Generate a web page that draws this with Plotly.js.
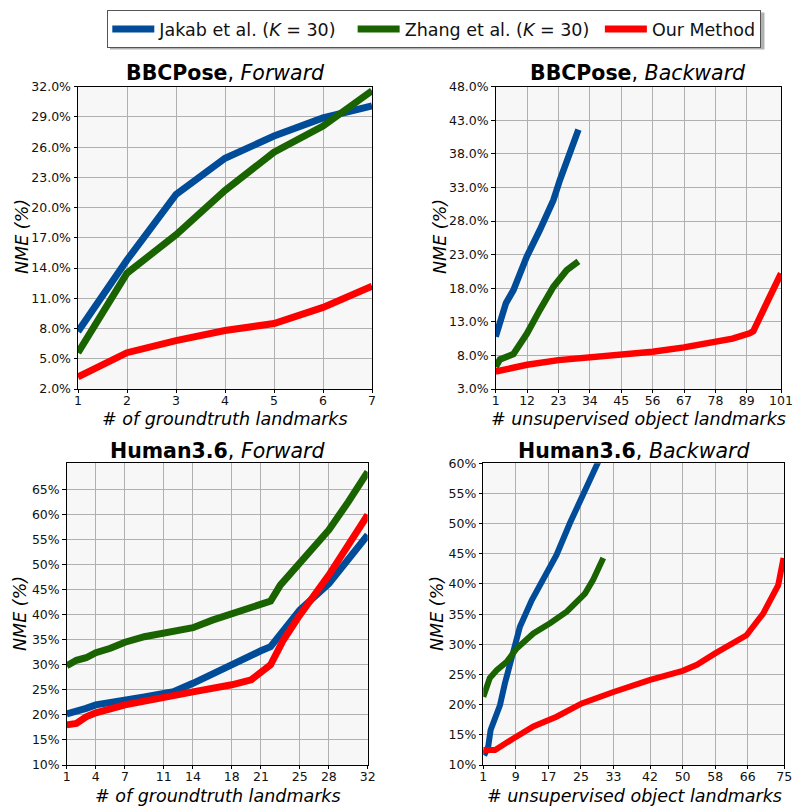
<!DOCTYPE html>
<html>
<head>
<meta charset="utf-8">
<script src="https://cdn.plot.ly/plotly-3.0.1.min.js"></script>
<style>html,body{margin:0;padding:0;background:#fff;}#chart{width:793px;height:808px;}</style>
</head>
<body>
<div id="chart"></div>
<script>
// ---------- Data ----------
const seriesNames = ['Jakab et al. (<i>K</i> = 30)\u00a0\u00a0', 'Zhang et al. (<i>K</i> = 30)\u00a0', 'Our Method'];

// BBCPose, Forward
const bbcF_x = [1, 2, 3, 4, 5, 6, 7];
const bbcF_jakab = [7.7, 14.8, 21.3, 24.9, 27.1, 28.9, 30.1];
const bbcF_zhang = [5.6, 13.5, 17.3, 21.7, 25.5, 28.1, 31.6];
const bbcF_ours  = [3.2, 5.6, 6.8, 7.8, 8.5, 10.1, 12.2];
const bbcF_ticks = [1, 2, 3, 4, 5, 6, 7];

// BBCPose, Backward
const bbcB_jakab_x = [1, 2.5, 4.6, 7.2, 8.9, 11.9, 16.5, 21.2, 23.5, 27, 30];
const bbcB_jakab   = [10.8, 12.8, 15.8, 17.7, 19.7, 22.7, 26.7, 31.1, 34.1, 38.1, 41.6];
const bbcB_zhang_x = [1, 2.5, 7.2, 11.9, 16.5, 21.2, 25.9, 30];
const bbcB_zhang   = [6.3, 7.4, 8.2, 11.2, 14.8, 18.2, 20.7, 22.0];
const bbcB_ours_x  = [1, 12, 23, 34, 45, 56, 67, 78, 84, 90, 91.3, 96, 101];
const bbcB_ours    = [5.6, 6.6, 7.3, 7.65, 8.1, 8.55, 9.2, 9.9, 10.5, 11.3, 11.6, 15.8, 20.2];
const bbcB_ticks = [1, 12, 23, 34, 45, 56, 67, 78, 89, 101];

// Human3.6, Forward
const h36F_jakab_x = [1, 2, 3, 4, 5.5, 7, 9, 11, 12, 14, 15.4, 16.4, 18, 19.5, 21, 22, 25, 28, 32];
const h36F_jakab   = [20.2, 20.6, 21.3, 22, 22.4, 22.8, 23.6, 24.3, 24.6, 26.3, 27.6, 28.8, 30.3, 31.7, 32.8, 33.6, 40.9, 46.2, 55.9];
const h36F_zhang_x = [1, 2, 3, 4, 5.5, 7, 9, 11, 12.3, 14, 16, 18, 19.5, 21, 22, 23, 25, 28, 30, 32];
const h36F_zhang   = [29.8, 30.9, 31.4, 32.4, 33.3, 34.5, 35.6, 36.4, 36.8, 37.4, 38.9, 40.2, 41.4, 42.3, 42.7, 45.9, 50.2, 56.9, 62.5, 68.5];
const h36F_ours_x  = [1, 2, 3, 4, 7, 11, 12.3, 14, 18, 20, 22, 23.3, 25, 28, 32];
const h36F_ours    = [18, 18.3, 19.6, 20.4, 22, 23.6, 24, 24.6, 26, 27, 30, 34.9, 39.9, 47.9, 59.9];
const h36F_ticks = [1, 4, 7, 11, 14, 18, 21, 25, 28, 32];

// Human3.6, Backward
const h36B_jakab_x = [1.2, 2.2, 2.8, 3.9, 5.1, 6.3, 8, 10, 12.9, 15.7, 19, 22.3, 25.2, 28, 29.3];
const h36B_jakab   = [11.6, 13, 15.8, 18, 19.9, 23.5, 27.9, 32.9, 37.3, 40.7, 44.8, 50.1, 54.2, 58.1, 60.3];
const h36B_zhang_x = [1, 2.6, 4.3, 6.75, 9.2, 13.3, 17.4, 21.5, 26, 28, 30.5];
const h36B_zhang   = [21.3, 24.4, 25.7, 27.1, 29.3, 31.8, 33.5, 35.4, 38.4, 40.7, 44.3];
const h36B_ours_x  = [1, 3.9, 8.4, 13.3, 19, 25.2, 33, 42, 50, 53.5, 58, 65.7, 69.8, 73.5, 74.8];
const h36B_ours    = [12.5, 12.5, 14.4, 16.4, 18, 20.2, 22.1, 24.1, 25.6, 26.6, 28.5, 31.5, 35.1, 39.8, 44.3];
const h36B_ticks = [1, 9, 17, 25, 33, 42, 50, 58, 66, 75];

// ---------- Styling ----------
const colors = ['#004c99', '#196400', '#ff0000'];
const FONT = 'DejaVu Sans';

function tr(x, y, k, ax, width, show) {
  return {
    x: x, y: y, type: 'scatter', mode: 'lines',
    name: seriesNames[k], showlegend: !!show, legendgroup: 'g' + k,
    xaxis: 'x' + ax, yaxis: 'y' + ax,
    line: {color: colors[k], width: width},
    hoverinfo: 'skip'
  };
}

const traces = [
  tr(bbcF_x, bbcF_jakab, 0, '', 7, true),
  tr(bbcF_x, bbcF_zhang, 1, '', 7, true),
  tr(bbcF_x, bbcF_ours, 2, '', 7, true),
  tr(bbcB_jakab_x, bbcB_jakab, 0, '2', 6.5),
  tr(bbcB_zhang_x, bbcB_zhang, 1, '2', 6.5),
  tr(bbcB_ours_x, bbcB_ours, 2, '2', 6.5),
  tr(h36F_jakab_x, h36F_jakab, 0, '3', 7),
  tr(h36F_zhang_x, h36F_zhang, 1, '3', 7),
  tr(h36F_ours_x, h36F_ours, 2, '3', 7),
  tr(h36B_jakab_x, h36B_jakab, 0, '4', 6),
  tr(h36B_zhang_x, h36B_zhang, 1, '4', 6),
  tr(h36B_ours_x, h36B_ours, 2, '4', 6)
];

const W = 793, H = 808;
function px(v) { return v / W; }
function py(v) { return 1 - v / H; }

function xax(dom, anchor, range, ticks) {
  return {
    domain: [px(dom[0]), px(dom[1])], anchor: anchor, range: range,
    tickmode: 'array', tickvals: ticks, ticktext: ticks.map(String),
    showgrid: true, gridcolor: '#b0b0b0', gridwidth: 1,
    showline: true, linecolor: '#000', linewidth: 1, mirror: true,
    ticks: 'outside', ticklen: 3, tickcolor: '#000', zeroline: false,
    ticklabelstandoff: -3,
    tickfont: {family: FONT, size: 12.5, color: '#111'}, fixedrange: true
  };
}
function yax(dom, anchor, range, ticks, dec) {
  return {
    domain: [py(dom[1]), py(dom[0])], anchor: anchor, range: range,
    tickmode: 'array', tickvals: ticks, ticktext: ticks.map(v => v.toFixed(dec) + '%'),
    showgrid: true, gridcolor: '#b0b0b0', gridwidth: 1,
    showline: true, linecolor: '#000', linewidth: 1, mirror: true,
    ticks: 'outside', ticklen: 3.5, tickcolor: '#000', zeroline: false,
    tickfont: {family: FONT, size: 12.5, color: '#111'}, fixedrange: true
  };
}
function range(a, b, s) { const r = []; for (let v = a; v <= b + 1e-9; v += s) r.push(v); return r; }

const layout = {
  width: W, height: H,
  margin: {l: 0, r: 0, t: 0, b: 0},
  paper_bgcolor: '#fff', plot_bgcolor: '#f7f7f7',
  font: {family: FONT, color: '#000'},
  xaxis:  xax([78, 372], 'y', [1, 7], bbcF_ticks),
  yaxis:  yax([86.7, 389], 'x', [2, 32], range(2, 32, 3), 1),
  xaxis2: xax([495.7, 781], 'y2', [1, 101], bbcB_ticks),
  yaxis2: yax([86.7, 389], 'x2', [3, 48], range(3, 48, 5), 1),
  xaxis3: xax([66.7, 367.7], 'y3', [1, 32], h36F_ticks),
  yaxis3: yax([463.3, 765], 'x3', [10, 70.2], range(10, 65, 5), 0),
  xaxis4: xax([483.3, 784.3], 'y4', [1, 75], h36B_ticks),
  yaxis4: yax([463.3, 765], 'x4', [10, 60], range(10, 60, 5), 0),
  showlegend: true,
  legend: {
    orientation: 'h', x: px(107.3), xanchor: 'left', y: py(10), yanchor: 'top',
    bgcolor: '#fff', bordercolor: '#555', borderwidth: 1,
    itemwidth: 42,
    font: {family: FONT, size: 17.5, color: '#111'},
    itemclick: false, itemdoubleclick: false
  },
  annotations: [],
  shapes: [
    {type: 'rect', xref: 'paper', yref: 'paper', layer: 'below',
     x0: px(110), x1: px(764.5), y0: py(49.5), y1: py(12.5),
     fillcolor: 'rgba(0,0,0,0.3)', line: {width: 0}}
  ]
};

function ann(text, x, y, size, angle) {
  return {text: text, x: px(x), y: py(y), xref: 'paper', yref: 'paper',
          xanchor: 'center', yanchor: 'middle', showarrow: false,
          textangle: angle || 0, font: {family: FONT, size: size, color: '#000'}};
}
layout.annotations.push(
  ann('<b>BBCPose</b>, <i>Forward</i>', 225, 73, 20.5),
  ann('<b>BBCPose</b>, <i>Backward</i>', 638, 73, 20.5),
  ann('<b>Human3.6</b>, <i>Forward</i>', 217, 450.5, 20.5),
  ann('<b>Human3.6</b>, <i>Backward</i>', 634, 450.5, 20.5),
  ann('<i># of groundtruth landmarks</i>', 225, 419, 17.5),
  ann('<i># unsupervised object landmarks</i>', 638, 419, 17.5),
  ann('<i># of groundtruth landmarks</i>', 218, 796, 17.5),
  ann('<i># unsupervised object landmarks</i>', 634, 796, 17.5),
  ann('<i>NME (%)</i>', 22, 237, 17.5, -90),
  ann('<i>NME (%)</i>', 440, 237, 17.5, -90),
  ann('<i>NME (%)</i>', 20, 614, 17.5, -90),
  ann('<i>NME (%)</i>', 437, 614, 17.5, -90)
);

Plotly.newPlot('chart', traces, layout, {displayModeBar: false, staticPlot: true});
</script>
</body>
</html>
